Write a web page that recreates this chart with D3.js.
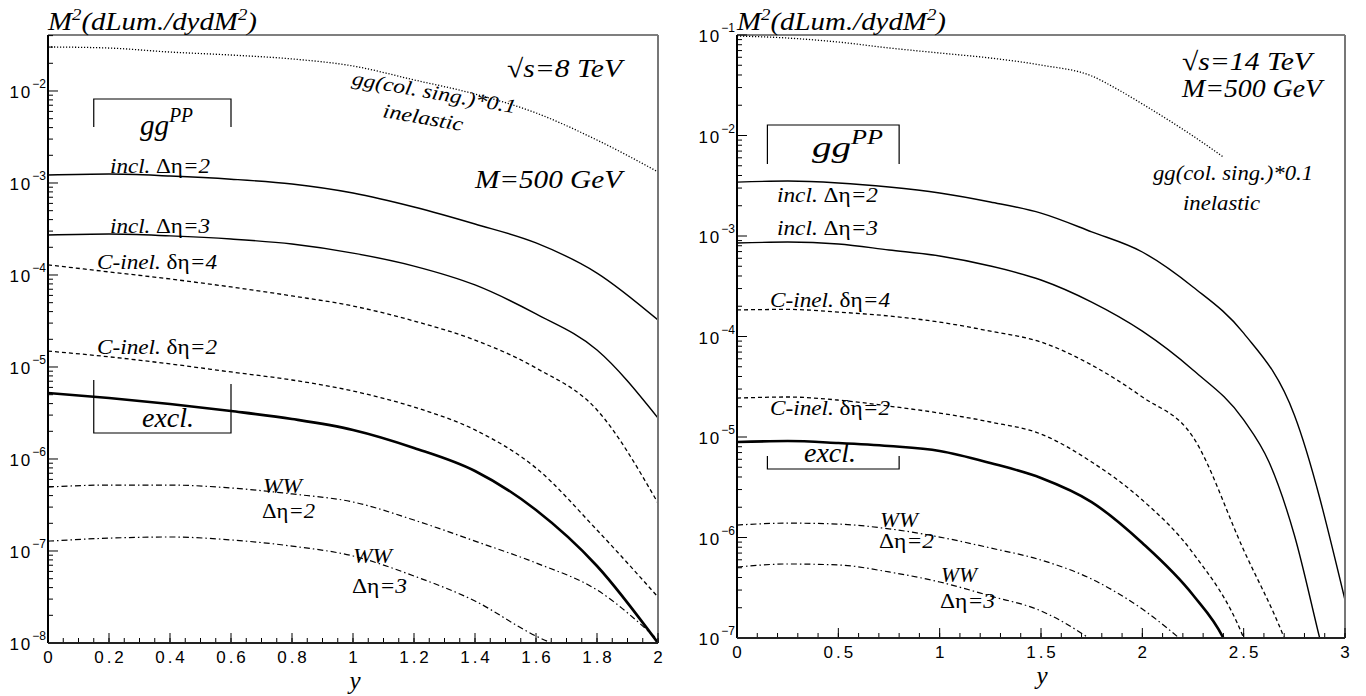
<!DOCTYPE html>
<html>
<head>
<meta charset="utf-8">
<script src="https://cdn.jsdelivr.net/npm/d3@7"></script>
<style>
body { margin: 0; background: #fff; }
.serif { font-family: "Liberation Serif", "DejaVu Serif", serif; font-style: italic; }
.sans { font-family: "Liberation Sans", Arial, sans-serif; }
</style>
</head>
<body>
<svg id="chart" width="1366" height="696"></svg>
<script>
// ---- data: rapidity y vs M^2 dLum/dydM^2 ----

// left panel, sqrt(s) = 8 TeV
const rapL = [0, 0.2, 0.4, 0.6, 0.8, 1.0, 1.2, 1.4, 1.6, 1.8, 2.0];
const rapLww3 = [0, 0.2, 0.4, 0.6, 0.8, 1.0, 1.2, 1.4, 1.6, 1.8];
const colSingL = [3.01e-2, 2.93e-2, 2.65e-2, 2.46e-2, 2.23e-2, 1.87e-2, 1.32e-2, 9.27e-3, 5.77e-3, 2.93e-3, 1.32e-3];
const incl2L  = [1.22e-3, 1.25e-3, 1.19e-3, 1.10e-3, 9.75e-4, 7.78e-4, 5.48e-4, 3.58e-4, 2.23e-4, 1.05e-4, 3.24e-5];
const incl3L  = [2.72e-4, 2.79e-4, 2.66e-4, 2.46e-4, 2.17e-4, 1.73e-4, 1.25e-4, 7.79e-5, 3.77e-5, 1.53e-5, 2.79e-6];
const cinel4L = [1.29e-4, 1.08e-4, 9.05e-5, 7.41e-5, 5.92e-5, 4.60e-5, 3.16e-5, 1.96e-5, 9.75e-6, 3.41e-6, 3.32e-7];
const cinel2L = [1.49e-5, 1.29e-5, 1.08e-5, 8.83e-6, 7.22e-6, 5.48e-6, 3.67e-6, 2.07e-6, 7.98e-7, 1.69e-7, 3.16e-8];
const exclL   = [5.21e-6, 4.60e-6, 3.96e-6, 3.32e-6, 2.72e-6, 2.07e-6, 1.32e-6, 7.41e-7, 2.79e-7, 6.87e-8, 1.0e-8];
const ww2L    = [4.96e-7, 5.21e-7, 5.21e-7, 4.84e-7, 4.17e-7, 3.41e-7, 2.17e-7, 1.28e-7, 7.41e-8, 3.77e-8, 1.08e-8];
const ww3L    = [1.28e-7, 1.38e-7, 1.42e-7, 1.32e-7, 1.13e-7, 8.83e-8, 5.35e-8, 2.86e-8, 1.19e-8, 6.5e-9];

// right panel, sqrt(s) = 14 TeV
const rapR = [0, 0.25, 0.5, 0.75, 1.0, 1.25, 1.5, 1.75, 2.0, 2.25, 2.5, 2.75, 3.0];
const rapRcol = [0, 0.25, 0.5, 0.75, 1.0, 1.25, 1.5, 1.75, 1.875, 2.0, 2.25, 2.4];
const rapRincl3 = [0, 0.25, 0.5, 0.75, 1.0, 1.25, 1.5, 1.75, 2.0, 2.25, 2.5, 2.625, 2.75, 2.875, 3.0];
const rapRc4 = [0, 0.25, 0.5, 0.75, 1.0, 1.25, 1.5, 1.75, 2.0, 2.25, 2.5, 2.7, 2.75];
const rapRc2 = [0, 0.25, 0.5, 0.75, 1.0, 1.25, 1.5, 1.75, 2.0, 2.25, 2.5, 2.55];
const rapRexcl = [0, 0.25, 0.5, 0.75, 1.0, 1.25, 1.5, 1.75, 2.0, 2.25, 2.4, 2.45];
const rapRww2 = [0, 0.25, 0.5, 0.75, 1.0, 1.25, 1.5, 1.75, 2.0, 2.25];
const rapRww3 = [0, 0.25, 0.5, 0.75, 1.0, 1.25, 1.5, 1.75, 2.0];
const colSingR = [9.77e-2, 9.33e-2, 8.51e-2, 7.43e-2, 6.62e-2, 5.90e-2, 5.02e-2, 3.91e-2, 2.90e-2, 2.06e-2, 9.89e-3, 6.11e-3];
const incl2R  = [3.44e-3, 3.52e-3, 3.37e-3, 3.07e-3, 2.68e-3, 2.18e-3, 1.69e-3, 1.10e-3, 6.93e-4, 3.11e-4, 1.08e-4, 1.66e-5, 2.39e-7];
const incl3R  = [8.51e-4, 8.71e-4, 8.32e-4, 7.26e-4, 6.32e-4, 5.03e-4, 3.65e-4, 2.20e-4, 1.13e-4, 4.64e-5, 1.48e-5, 5.64e-6, 1.06e-6, 1.0e-7, 9.7e-9];
const cinel4R = [1.84e-4, 1.86e-4, 1.75e-4, 1.60e-4, 1.39e-4, 1.13e-4, 8.81e-5, 5.20e-5, 2.50e-5, 1.0e-5, 7.51e-7, 1.0e-7, 5.4e-8];
const cinel2R = [2.44e-5, 2.50e-5, 2.33e-5, 2.03e-5, 1.73e-5, 1.41e-5, 1.07e-5, 5.64e-6, 2.36e-6, 7.01e-7, 1.0e-7, 5.4e-8];
const exclR   = [8.91e-6, 9.12e-6, 8.71e-6, 8.13e-6, 7.26e-6, 5.51e-6, 3.91e-6, 2.25e-6, 8.82e-7, 2.68e-7, 1.0e-7, 6.0e-8];
const ww2R    = [1.33e-6, 1.39e-6, 1.36e-6, 1.22e-6, 1.01e-6, 7.87e-7, 5.97e-7, 3.86e-7, 1.94e-7, 7.6e-8];
const ww3R    = [5.08e-7, 5.45e-7, 5.33e-7, 4.54e-7, 3.61e-7, 2.62e-7, 1.86e-7, 9.55e-8, 3.82e-8];

// line styles
const styles = {
    solid:   { w: 1.4, dash: null },
    thick:   { w: 2.6, dash: null },
    dashed:  { w: 1.3, dash: "4,3" },
    dotted:  { w: 1.3, dash: "1.2,1.8" },
    dashdot: { w: 1.2, dash: "6,3,1.5,3" }
};

const svg = d3.select("#chart");

// text with upright pieces between | | ; len stretches it like the ROOT fonts
function label(g, x, y, str, size, len, opts)
{
    opts = opts || {};
    let t = g.append("text").attr("class", "serif").attr("x", x).attr("y", y).attr("font-size", size);
    if (opts.anchor) t.attr("text-anchor", opts.anchor);
    if (opts.rotate) t.attr("transform", "rotate(" + opts.rotate + "," + x + "," + y + ")");
    if (len) t.attr("textLength", len).attr("lengthAdjust", "spacingAndGlyphs");
    str.split("|").forEach((s, i) => {
        if (s === "") return;
        t.append("tspan").text(s).attr("font-style", i % 2 ? "normal" : "italic");
    });
    return t;
}

function drawPanel(p)
{
    let g = svg.append("g").attr("transform", "translate(" + p.left + "," + p.top + ")");
    let x = d3.scaleLinear().domain(p.xDomain).range([0, p.w]);
    let y = d3.scaleLog().domain(p.yDomain).range([p.h, 0]);

    g.append("clipPath").attr("id", p.id + "clip")
        .append("rect").attr("width", p.w).attr("height", p.h);

    // curves
    let line = d3.line().x(d => x(d[0])).y(d => y(d[1])).curve(d3.curveMonotoneX);
    let curves = g.append("g").attr("clip-path", "url(#" + p.id + "clip)");
    p.series.forEach(s => {
        let st = styles[s.style];
        let pts = s.x.map((v, i) => [v, s.v[i]]);
        curves.append("path")
            .attr("d", line(pts))
            .attr("fill", "none")
            .attr("stroke", "#000")
            .attr("stroke-width", st.w)
            .attr("stroke-dasharray", st.dash);
    });

    // frame: top and right
    g.append("line").attr("x1", 0).attr("x2", p.w).attr("y1", 0).attr("y2", 0)
        .attr("stroke", "#000").attr("stroke-width", 1.2);
    g.append("line").attr("x1", p.w).attr("x2", p.w).attr("y1", 0).attr("y2", p.h)
        .attr("stroke", "#777").attr("stroke-width", 2);

    // y axis (log) with inward ticks
    let lo = Math.floor(Math.log10(p.yDomain[0])), hi = Math.ceil(Math.log10(p.yDomain[1]));
    let ax = g.append("g");
    for (let e = lo; e <= hi; e++) {
        let b = Math.pow(10, e);
        for (let m = 1; m < 10; m++) {
            let v = m * b;
            if (v < p.yDomain[0] * 0.999 || v > p.yDomain[1] * 1.001) continue;
            let len = m === 1 ? 10 : 5;
            ax.append("line").attr("x1", 0).attr("x2", len).attr("y1", y(v)).attr("y2", y(v))
                .attr("stroke", "#000").attr("stroke-width", 1);
            if (m === 1) {
                let t = ax.append("text").attr("class", "sans").attr("text-anchor", "end")
                    .attr("x", -2).attr("y", y(v) + 7).attr("font-size", 17);
                t.append("tspan").text("10").attr("letter-spacing", 2);
                t.append("tspan").text("\u2212" + (-e)).attr("font-size", 12).attr("dy", -10);
            }
        }
    }
    ax.append("line").attr("x1", 0).attr("x2", 0).attr("y1", 0).attr("y2", p.h)
        .attr("stroke", "#000").attr("stroke-width", 2);

    // x axis with upward ticks
    d3.range(p.xDomain[0], p.xDomain[1] + 1e-9, p.xMinor).forEach(v => {
        ax.append("line").attr("x1", x(v)).attr("x2", x(v)).attr("y1", p.h).attr("y2", p.h - 5)
            .attr("stroke", "#000").attr("stroke-width", 1);
    });
    d3.range(p.xDomain[0], p.xDomain[1] + 1e-9, p.xMajor).forEach(v => {
        ax.append("line").attr("x1", x(v)).attr("x2", x(v)).attr("y1", p.h).attr("y2", p.h - 10)
            .attr("stroke", "#000").attr("stroke-width", 1);
        let s = String(+v.toFixed(2));
        ax.append("text").attr("class", "sans").attr("text-anchor", "middle")
            .attr("x", x(v) + 1.5).attr("y", p.h + 20).attr("font-size", 17)
            .attr("letter-spacing", 3).text(s);
    });
    ax.append("line").attr("x1", 0).attr("x2", p.w).attr("y1", p.h).attr("y2", p.h)
        .attr("stroke", "#222").attr("stroke-width", 2);

    // axis titles
    let tt = g.append("text").attr("class", "serif").attr("x", 0).attr("y", -5).attr("font-size", 26)
        .attr("textLength", 209).attr("lengthAdjust", "spacingAndGlyphs");
    tt.append("tspan").text("M");
    tt.append("tspan").text("2").attr("font-size", 17).attr("dy", -10);
    tt.append("tspan").text("(dLum./dydM").attr("dy", 10);
    tt.append("tspan").text("2").attr("font-size", 17).attr("dy", -10);
    tt.append("tspan").text(")").attr("dy", 10);
    g.append("text").attr("class", "serif").attr("x", p.yLabelX).attr("y", p.h + 46)
        .attr("font-size", 25).attr("text-anchor", "middle").text("y");

    // brackets
    let b = p.ggBox;
    g.append("path").attr("fill", "none").attr("stroke", "#000").attr("stroke-width", 1.2)
        .attr("d", "M" + x(b.x0) + "," + b.y1 + "V" + b.y0 + "H" + x(b.x1) + "V" + b.y1);
    let tg = g.append("text").attr("class", "serif").attr("x", b.tx).attr("y", b.ty).attr("font-size", 30)
        .attr("textLength", b.len).attr("lengthAdjust", "spacingAndGlyphs");
    tg.append("tspan").text("gg");
    tg.append("tspan").text("PP").attr("font-size", 20).attr("dy", -13);
    let e2 = p.exclBox;
    g.append("path").attr("fill", "none").attr("stroke", "#000").attr("stroke-width", 1.2)
        .attr("d", "M" + x(e2.x0) + "," + e2.yl + "V" + e2.y1 + "H" + x(e2.x1) + "V" + e2.yr);
    g.append("text").attr("class", "serif").attr("x", e2.tx).attr("y", e2.ty)
        .attr("font-size", 28).attr("text-anchor", "middle").text("excl.");

    p.labels.forEach(l => label(g, l[0], l[1], l[2], l[3], l[4], l[5]));
}

drawPanel({
    id: "L", left: 48, top: 35, w: 610, h: 608,
    xDomain: [0, 2], yDomain: [1e-8, 0.0406], xMajor: 0.2, xMinor: 0.05, yLabelX: 307,
    series: [
        { x: rapL, v: colSingL, style: "dotted" },
        { x: rapL, v: incl2L, style: "solid" },
        { x: rapL, v: incl3L, style: "solid" },
        { x: rapL, v: cinel4L, style: "dashed" },
        { x: rapL, v: cinel2L, style: "dashed" },
        { x: rapL, v: exclL, style: "thick" },
        { x: rapL, v: ww2L, style: "dashdot" },
        { x: rapLww3, v: ww3L, style: "dashdot" }
    ],
    ggBox: { x0: 0.15, x1: 0.6, y0: 64, y1: 92, tx: 92, ty: 100, len: 53 },
    exclBox: { x0: 0.15, x1: 0.6, yl: 345, yr: 349, y1: 398, tx: 120, ty: 392 },
    labels: [
        [574, 42, "|\u221a|s=8 TeV", 26, 115, { anchor: "end" }],
        [574, 153, "M=500 GeV", 26, 147, { anchor: "end" }],
        [385, 64, "gg(col. sing.)*0.1", 20, 166, { anchor: "middle", rotate: 10 }],
        [374, 89, "inelastic", 20, 81, { anchor: "middle", rotate: 10 }],
        [62, 138, "incl. |\u0394\u03b7|=2", 20, 100],
        [62, 198, "incl. |\u0394\u03b7|=3", 20, 100],
        [49, 234, "C-inel. |\u03b4\u03b7|=4", 20, 120],
        [49, 319, "C-inel. |\u03b4\u03b7|=2", 20, 120],
        [215, 458, "WW", 20, 39],
        [214, 483, "|\u0394\u03b7|=2", 20, 53],
        [305, 528, "WW", 20, 39],
        [304, 558, "|\u0394\u03b7|=3", 20, 55]
    ]
});

drawPanel({
    id: "R", left: 737, top: 35, w: 608, h: 603,
    xDomain: [0, 3], yDomain: [1e-7, 1e-1], xMajor: 0.5, xMinor: 0.1, yLabelX: 305,
    series: [
        { x: rapRcol, v: colSingR, style: "dotted" },
        { x: rapR, v: incl2R, style: "solid" },
        { x: rapRincl3, v: incl3R, style: "solid" },
        { x: rapRc4, v: cinel4R, style: "dashed" },
        { x: rapRc2, v: cinel2R, style: "dashed" },
        { x: rapRexcl, v: exclR, style: "thick" },
        { x: rapRww2, v: ww2R, style: "dashdot" },
        { x: rapRww3, v: ww3R, style: "dashdot" }
    ],
    ggBox: { x0: 0.15, x1: 0.8, y0: 90, y1: 129, tx: 75, ty: 122, len: 71 },
    exclBox: { x0: 0.15, x1: 0.8, yl: 421, yr: 421, y1: 434, tx: 93, ty: 427 },
    labels: [
        [445, 35, "|\u221a|s=14 TeV", 26, 130],
        [445, 62, "M=500 GeV", 26, 140],
        [416, 145, "gg(col. sing.)*0.1", 20, 160],
        [446, 175, "inelastic", 20, 77],
        [40, 167, "incl. |\u0394\u03b7|=2", 20, 101],
        [40, 200, "incl. |\u0394\u03b7|=3", 20, 101],
        [33, 272, "C-inel. |\u03b4\u03b7|=4", 20, 120],
        [33, 380, "C-inel. |\u03b4\u03b7|=2", 20, 120],
        [143, 492, "WW", 20, 38],
        [142, 513, "|\u0394\u03b7|=2", 20, 55],
        [204, 547, "WW", 20, 36],
        [203, 573, "|\u0394\u03b7|=3", 20, 55]
    ]
});
</script>
</body>
</html>
